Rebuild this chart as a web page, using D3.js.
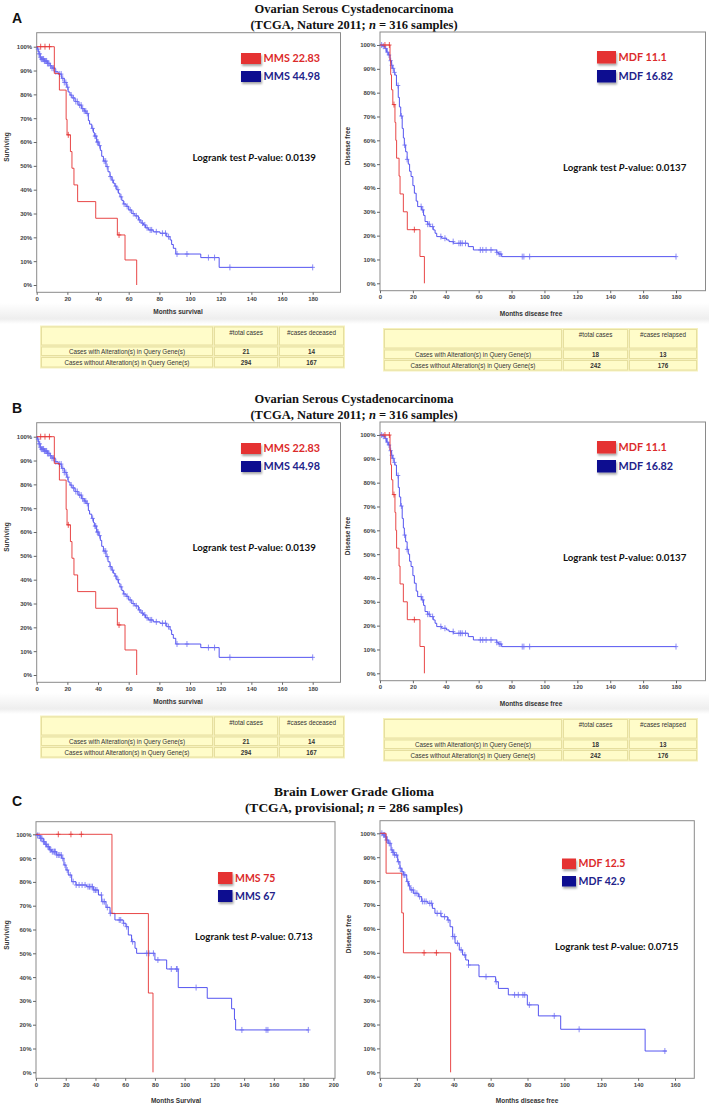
<!DOCTYPE html>
<html><head><meta charset="utf-8">
<script src="https://cdn.jsdelivr.net/npm/d3@7"></script>
<style>body{margin:0;background:#fff;} svg{display:block;}</style>
</head><body>
<svg id="chart" width="709" height="1109"></svg>
<script>
// ---------------- DATA ----------------
const pctTicks = [0,10,20,30,40,50,60,70,80,90,100];
const ovTicks = [0,20,40,60,80,100,120,140,160,180];
const lggOsTicks = [0,20,40,60,80,100,120,140,160,180,200];
const lggDfsTicks = [0,20,40,60,80,100,120,140,160];

// Ovarian — overall survival
const ovOsAltSteps = [[0,100],[11.5,88.8],[14.8,81.8],[19.2,69.5],[19.8,63],[22,56],[23,49],[24.3,42],[26.7,35],[38.5,28],[52.6,21],[57.6,10.5],[65.2,0]];
const ovOsAltCensor = [2.6,5.4,8.3,20.6,53.7];
const ovOsUnaltSteps = [[0,100],[0.5,99],[1,98],[1.5,97],[2.2,95.5],[3,94.8],[5,94],[7,93],[8.7,92],[10,91],[12,89.5],[14,88.5],[16.3,86.7],[18,85],[19.6,83],[20.5,81],[21.7,79.7],[23,78.5],[25,77],[27,75.5],[29.3,74],[31,73],[32.2,72],[33.7,69],[34.5,67.5],[35.9,65.7],[37,64],[37.6,62.5],[39.1,60],[40.5,58.5],[41.5,56.5],[42.4,54],[43.5,52],[45.2,49.7],[46.5,47.5],[47.8,45.5],[49,44],[50,42.7],[51,41.5],[52.2,40],[53.3,38.5],[54.3,37],[55.5,35.5],[56.5,34],[58.3,33],[60,31.5],[62,30],[64,29],[66.3,27.3],[68,26],[69.6,25.2],[71,24],[72.8,23.1],[76,22.3],[80.4,21.7],[84.8,20.3],[87,18.9],[88,17],[89.1,15.4],[90.7,13],[107,11.5],[119,7.4]];
const ovOsUnaltEnd = 180;
const ovOsUnaltCensor = [0.8,1.5,2,2.5,3,3.5,4,4.5,5,5.5,6,6.5,7,7.5,8,9,10,11,12.5,15,16,17,18,19,20.2,22.5,24,25.5,26.5,28,29,30,31,32,33,36.5,38,38.5,39.5,40,41,44,45,46,48,49.5,51.5,53,55,57,59,61,63,65,67,69,70.5,72,74,75,78,82,84,86,91.5,98,112,116,126,180];

// Ovarian — disease free
const ovDfsAltSteps = [[0,100],[6.1,93.7],[6.5,87.5],[7,81.2],[7.8,75],[9.1,67.5],[9.6,60],[10.1,52.5],[11.6,45],[12.2,37.5],[14.2,30],[16.6,22.5],[24.3,11.25],[27,0]];
const ovDfsAltCensor = [3,5.7,8.5,20.9];
const ovDfsUnaltSteps = [[0,100],[1.5,99.5],[3,98.5],[4,97],[5.1,95.8],[6.1,93.4],[7,91.5],[7.5,90.2],[8.5,88.5],[9.1,87.4],[10,83],[11.1,78],[11.8,74],[12.6,70.2],[13.5,65],[14.2,61],[14.8,58],[15.6,55.2],[16.5,52],[17.2,50],[18,47],[18.9,44.8],[20,41],[20.9,37.8],[22,34.5],[22.9,32.2],[25.3,30.8],[26.5,28.5],[27.4,25.9],[29,24.8],[30.4,23.8],[32.4,22.4],[33.5,21],[34.5,19.6],[37.5,18.9],[40.5,18.2],[42,17.5],[44.6,16.8],[53.7,15.4],[56.8,14],[71,13],[72,12.3],[74,11.2]];
const ovDfsUnaltEnd = 180;
const ovDfsUnaltCensor = [1,2,3.5,4.5,5.5,6.5,7.2,8,8.8,11,13,15,16.5,25,26,29,30,32,37,39.5,44.5,48,49,50,52,61,62.5,64.5,67.5,71,72.5,73.5,86.5,87.5,91,180];

// Brain LGG — overall survival
const lggOsAltSteps = [[0,100],[51.1,66.7],[75.6,33.3],[78.7,0]];
const lggOsAltCensor = [15,23.5,30.5];
const lggOsUnaltSteps = [[0,100],[1,99.5],[2.7,98.3],[4.9,96.9],[6,95.8],[7.2,94.8],[9,93.5],[10.5,92.7],[13.9,91.3],[17.3,89.9],[18.8,87.1],[20.2,85],[21.7,82.9],[24,80.1],[26.9,78.7],[34.1,78],[38.6,76.6],[42,74.5],[44.2,71.7],[47.1,69.3],[49.8,66.8],[53.1,64],[58.7,62.6],[60.5,61.2],[62.1,57.7],[64.3,54.9],[66.6,52.1],[67.7,50],[80,47.2],[87.9,43.4],[95.7,35.6],[115.2,31.1],[131.6,26.7],[133.5,22.2],[134.3,17.8]];
const lggOsUnaltEnd = 183.2;
const lggOsUnaltCensor = [1,2,3,3.5,4,5,5.5,6.5,7,8,8.5,9.5,10,11,12,12.5,13,14,15,16,17,18,19.5,21,23,25,27,29,31,33,35,36,37,38,39,40,41,44,45,46,48,50,56,57,59,61,65,74.5,76,79,82,91,94.5,95,107.7,138.5,154.8,156,183.2];

// Brain LGG — disease free
const lggDfsAltSteps = [[0,100],[3.3,83.3],[11.8,66.7],[12.7,50],[38.3,0]];
const lggDfsAltCensor = [23.9,30.6];
const lggDfsUnaltSteps = [[0,100],[1.5,99.3],[2.7,98.6],[3.5,97.2],[4.5,95.8],[6,93],[7,92],[7.8,90.9],[9.6,88.1],[10.8,85.4],[11.8,84],[12.7,82.6],[14.5,79.8],[15.5,78],[16.3,76.3],[18.1,74.9],[20.8,73.5],[22.6,71.5],[25.9,70.7],[28.4,68.6],[29.8,66.5],[33.1,65.1],[36.7,63.7],[38,60.9],[39.4,56.8],[40.7,54],[43,51.2],[44.8,49.1],[46.5,47],[48,44.9],[53.7,40],[62.7,37.9],[64.2,35.1],[69.6,32.4],[79.9,28.2],[85.9,23.6],[98,18],[143.8,8.9]];
const lggDfsUnaltEnd = 155.5;
const lggDfsUnaltCensor = [1,2,2.5,3,3.5,4,5,5.5,6.5,7,7.5,8,9,10,11,12,13,13.5,15,16,17,18,19,20,21.5,23,24,25,27,28,31,33,35,37,39.5,40.5,42,44,46,48,57.5,63,73,75,77.5,78.5,81,94.5,108,154.5];

// Text
const ovTitle1 = "Ovarian Serous Cystadenocarcinoma";
const ovTitle2 = ["(TCGA, Nature 2011; ", "n", " = 316 samples)"];
const lggTitle1 = "Brain Lower Grade Glioma";
const lggTitle2 = ["(TCGA, provisional; ", "n", " = 286 samples)"];
const ovOsLegend = ["MMS 22.83", "MMS 44.98"];
const ovDfsLegend = ["MDF 11.1", "MDF 16.82"];
const lggOsLegend = ["MMS 75", "MMS 67"];
const lggDfsLegend = ["MDF 12.5", "MDF 42.9"];
const ovOsP = "0.0139", ovDfsP = "0.0137", lggOsP = "0.713", lggDfsP = "0.0715";
const osTableHead = ["", "#total cases", "#cases deceased"];
const osTableRows = [["Cases with Alteration(s) in Query Gene(s)", "21", "14"],
                     ["Cases without Alteration(s) in Query Gene(s)", "294", "167"]];
const dfsTableHead = ["", "#total cases", "#cases relapsed"];
const dfsTableRows = [["Cases with Alteration(s) in Query Gene(s)", "18", "13"],
                      ["Cases without Alteration(s) in Query Gene(s)", "242", "176"]];

// ---------------- DRAWING ----------------
const RED = "#e53232", BLUE = "#4242ee", BLUE_C = "#6f6ff4";
const svg = d3.select("#chart");
const defs = svg.append("defs");
const f = defs.append("filter").attr("id","shadow").attr("x","-30%").attr("y","-30%").attr("width","170%").attr("height","190%");
f.append("feDropShadow").attr("dx",1).attr("dy",2).attr("stdDeviation",1.2).attr("flood-color","#000").attr("flood-opacity",0.35);
const grad = defs.append("linearGradient").attr("id","band").attr("x1",0).attr("y1",0).attr("x2",0).attr("y2",1);
grad.append("stop").attr("offset","0%").attr("stop-color","#fff");
grad.append("stop").attr("offset","75%").attr("stop-color","#eeeeee");
grad.append("stop").attr("offset","100%").attr("stop-color","#fff");

function survAt(steps, t) {
  let s = 100;
  for (const [tt, v] of steps) if (tt <= t) s = v;
  return s;
}

function drawKM(c) {
  const g = svg.append("g");
  const x = d3.scaleLinear().domain([0, c.domainMax]).range([c.x0, c.xMaxPx]);
  const y = d3.scaleLinear().domain([0, 100]).range([c.y0, c.y100]);
  g.append("rect").attr("x", c.x0).attr("y", c.frameTop)
    .attr("width", c.frameRight - c.x0).attr("height", c.frameBottom - c.frameTop)
    .attr("fill", "#fff").attr("stroke", "#8a8a8a").attr("stroke-width", 1);
  const ya = g.append("g").attr("transform", `translate(${c.x0},0)`)
    .call(d3.axisLeft(y).tickValues(pctTicks).tickFormat(d => d + "%").tickSize(3).tickPadding(1.5));
  const xa = g.append("g").attr("transform", `translate(0,${c.frameBottom})`)
    .call(d3.axisBottom(x).tickValues(c.ticks).tickSize(2.5).tickPadding(1.5));
  [ya, xa].forEach(a => {
    a.select(".domain").remove();
    a.selectAll(".tick line").attr("stroke", "#666");
    a.selectAll(".tick text").attr("font-family", "Liberation Sans, Arial, sans-serif")
      .attr("font-size", 6).attr("font-weight", "bold").attr("fill", "#444");
  });
  g.append("text").attr("x", c.xLabelX).attr("y", c.xLabelY).attr("text-anchor", "middle")
    .attr("font-family", "Liberation Sans, Arial, sans-serif").attr("font-size", 6.5)
    .attr("font-weight", "bold").attr("fill", "#333").text(c.xLabel);
  g.append("text").attr("transform", `translate(${c.yLabelX},${c.yLabelY}) rotate(-90)`)
    .attr("text-anchor", "middle").attr("font-family", "Liberation Sans, Arial, sans-serif")
    .attr("font-size", 6.5).attr("font-weight", "bold").attr("fill", "#333").text(c.yLabel);
  const line = d3.line().x(d => x(d[0])).y(d => y(d[1])).curve(d3.curveStepAfter);
  c.curves.forEach(cv => {
    const pts = cv.steps.slice();
    if (cv.end != null) pts.push([cv.end, pts[pts.length - 1][1]]);
    g.append("path").attr("d", line(pts)).attr("fill", "none")
      .attr("stroke", cv.color).attr("stroke-width", 0.9);
    const cg = g.append("g").attr("stroke", cv.censorColor).attr("stroke-width", 0.8);
    cv.censor.forEach(t => {
      const px = x(t), py = y(survAt(cv.steps, t));
      cg.append("line").attr("x1", px).attr("x2", px).attr("y1", py - 3).attr("y2", py + 3);
      cg.append("line").attr("x1", px - 2.2).attr("x2", px + 2.2).attr("y1", py).attr("y2", py);
    });
  });
  const L = c.legend;
  [["#e53030", L.redY, L.labels[0], "#dc2b2b"], ["#101090", L.blueY, L.labels[1], "#22228a"]]
    .forEach(([fill, ry, lab, tc]) => {
      g.append("rect").attr("x", L.x).attr("y", ry).attr("width", L.w).attr("height", L.h)
        .attr("fill", fill).attr("filter", "url(#shadow)");
      g.append("text").attr("x", L.x + L.w + 2.5).attr("y", ry + L.h / 2 + 3.7)
        .attr("font-family", "Lato, Open Sans, sans-serif").attr("font-weight", "bold")
        .attr("font-size", L.fs).attr("fill", tc).text(lab);
    });
  const t = g.append("text").attr("x", c.lr.x).attr("y", c.lr.y)
    .attr("font-family", "Lato, Open Sans, sans-serif").attr("font-weight", "bold")
    .attr("font-size", c.lr.fs).attr("fill", "#111");
  t.append("tspan").text("Logrank test ");
  t.append("tspan").attr("font-style", "italic").text("P");
  t.append("tspan").text("-value: " + c.lr.p);
}

function drawTitle(yb, letter, t1, t2, fs) {
  svg.append("text").attr("x", 12).attr("y", yb + 10).attr("font-family", "Liberation Sans, Arial, sans-serif")
    .attr("font-weight", "bold").attr("font-size", 14).attr("fill", "#111").text(letter);
  svg.append("text").attr("x", 354).attr("y", yb).attr("text-anchor", "middle")
    .attr("font-family", "Liberation Serif, Times New Roman, serif").attr("font-weight", "bold")
    .attr("font-size", fs).attr("fill", "#111").text(t1);
  const tt = svg.append("text").attr("x", 354).attr("y", yb + 15.5).attr("text-anchor", "middle")
    .attr("font-family", "Liberation Serif, Times New Roman, serif").attr("font-weight", "bold")
    .attr("font-size", fs).attr("fill", "#111");
  tt.append("tspan").text(t2[0]);
  tt.append("tspan").attr("font-style", "italic").text(t2[1]);
  tt.append("tspan").text(t2[2]);
}

function drawTable(tx, ty, colW, rowH, head, rows) {
  const g = svg.append("g");
  const W = d3.sum(colW) + colW.length + 1, H = d3.sum(rowH) + rowH.length + 1;
  g.append("rect").attr("x", tx).attr("y", ty).attr("width", W).attr("height", H).attr("fill", "#f6f1bd");
  const all = [head].concat(rows);
  let cy = ty + 1;
  all.forEach((r, ri) => {
    let cx = tx + 1;
    r.forEach((cell, ci) => {
      g.append("rect").attr("x", cx + 0.5).attr("y", cy + 0.5).attr("width", colW[ci] - 1).attr("height", rowH[ri] - 1)
        .attr("fill", "#fffcc9").attr("stroke", "#e6df9f").attr("stroke-width", 1);
      if (cell !== "") {
        g.append("text").attr("x", cx + colW[ci] / 2)
          .attr("y", ri === 0 ? cy + 8 : cy + rowH[ri] / 2 + 2.3)
          .attr("text-anchor", "middle").attr("font-family", "Liberation Sans, Arial, sans-serif")
          .attr("font-size", 6.3).attr("font-weight", (ri > 0 && ci > 0) ? "bold" : "normal")
          .attr("fill", "#333").text(cell);
      }
      cx += colW[ci] + 1;
    });
    cy += rowH[ri] + 1;
  });
}

function ovarianPanel(off, letter) {
  drawTitle(13 + off, letter, ovTitle1, ovTitle2, 12.5);
  svg.append("rect").attr("x", 0).attr("y", 303 + off).attr("width", 709).attr("height", 21).attr("fill", "url(#band)");
  drawKM({
    x0: 36.7, xMaxPx: 340.3, domainMax: 198, ticks: ovTicks,
    y0: 285 + off, y100: 46.7 + off, frameTop: 32.7 + off, frameRight: 340.5, frameBottom: 292.3 + off,
    xLabel: "Months survival", xLabelX: 178, xLabelY: 314 + off,
    yLabel: "Surviving", yLabelX: 8.5, yLabelY: 147 + off,
    legend: {x: 241, w: 20, h: 11, redY: 53 + off, blueY: 71 + off, labels: ovOsLegend, fs: 10.8},
    lr: {x: 192.5, y: 160.5 + off, fs: 9.7, p: ovOsP},
    curves: [
      {steps: ovOsUnaltSteps, end: ovOsUnaltEnd, censor: ovOsUnaltCensor, color: BLUE, censorColor: BLUE_C},
      {steps: ovOsAltSteps, end: null, censor: ovOsAltCensor, color: RED, censorColor: RED}
    ]
  });
  drawKM({
    x0: 380, xMaxPx: 705.6, domainMax: 198, ticks: ovTicks,
    y0: 283.3 + off, y100: 45 + off, frameTop: 32 + off, frameRight: 705.5, frameBottom: 290.7 + off,
    xLabel: "Months disease free", xLabelX: 531, xLabelY: 315.5 + off,
    yLabel: "Disease free", yLabelX: 350, yLabelY: 146 + off,
    legend: {x: 597, w: 19, h: 12.5, redY: 51 + off, blueY: 70 + off, labels: ovDfsLegend, fs: 10.8},
    lr: {x: 563, y: 170.5 + off, fs: 9.7, p: ovDfsP},
    curves: [
      {steps: ovDfsUnaltSteps, end: ovDfsUnaltEnd, censor: ovDfsUnaltCensor, color: BLUE, censorColor: BLUE_C},
      {steps: ovDfsAltSteps, end: null, censor: ovDfsAltCensor, color: RED, censorColor: RED}
    ]
  });
  drawTable(40, 325.5 + off, [172, 64, 65], [19, 9.5, 10.5], osTableHead, osTableRows);
  drawTable(383, 328 + off, [178, 65, 68], [19.5, 9.5, 10.5], dfsTableHead, dfsTableRows);
}

ovarianPanel(0, "A");
ovarianPanel(390, "B");

// Panel C
drawTitle(796, "C", lggTitle1, lggTitle2, 13.5);
drawKM({
  x0: 36, xMaxPx: 333.3, domainMax: 200, ticks: lggOsTicks,
  y0: 1072.3, y100: 834.3, frameTop: 821.7, frameRight: 335, frameBottom: 1078.3,
  xLabel: "Months Survival", xLabelX: 176, xLabelY: 1103,
  yLabel: "Surviving", yLabelX: 8.5, yLabelY: 935,
  legend: {x: 218, w: 14.5, h: 12, redY: 872, blueY: 890, labels: lggOsLegend, fs: 10.5},
  lr: {x: 195, y: 940, fs: 9.7, p: lggOsP},
  curves: [
    {steps: lggOsUnaltSteps, end: lggOsUnaltEnd, censor: lggOsUnaltCensor, color: BLUE, censorColor: BLUE_C},
    {steps: lggOsAltSteps, end: null, censor: lggOsAltCensor, color: RED, censorColor: RED}
  ]
});
drawKM({
  x0: 380, xMaxPx: 675, domainMax: 160, ticks: lggDfsTicks,
  y0: 1072.3, y100: 833.3, frameTop: 820.7, frameRight: 694.3, frameBottom: 1078.3,
  xLabel: "Months disease free", xLabelX: 527, xLabelY: 1103,
  yLabel: "Disease free", yLabelX: 350.5, yLabelY: 934,
  legend: {x: 562, w: 14, h: 10.5, redY: 858.5, blueY: 876, labels: lggDfsLegend, fs: 10.5},
  lr: {x: 555, y: 950, fs: 9.7, p: lggDfsP},
  curves: [
    {steps: lggDfsUnaltSteps, end: lggDfsUnaltEnd, censor: lggDfsUnaltCensor, color: BLUE, censorColor: BLUE_C},
    {steps: lggDfsAltSteps, end: null, censor: lggDfsAltCensor, color: RED, censorColor: RED}
  ]
});
</script>
</body></html>
